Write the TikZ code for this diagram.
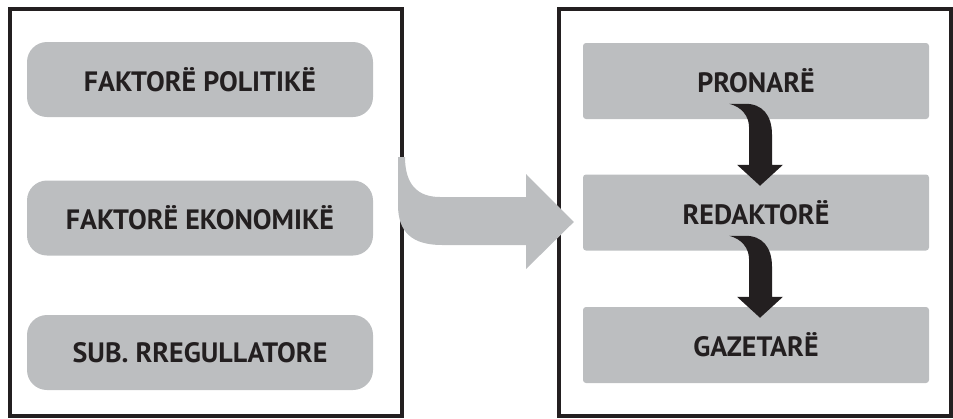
\documentclass[tikz,border=0pt]{standalone}
\usepackage{fontspec}
\setmainfont{PT Sans}
\usetikzlibrary{calc}
\definecolor{boxgray}{HTML}{BCBEC0}
\definecolor{ink}{HTML}{231F20}
\tikzset{
  frame/.style={draw=ink, line width=4pt, minimum width=392pt, minimum height=407pt, inner sep=0pt},
  boxtext/.style={text=ink, font=\fontsize{28}{32}\selectfont\bfseries},
  leftbox/.style={boxtext, fill=boxgray, rounded corners=20pt, minimum width=346pt, minimum height=75pt,
    inner sep=0pt},
  rightbox/.style={boxtext, fill=boxgray, rounded corners=3pt, minimum width=346pt, minimum height=76pt,
    inner sep=0pt},
  bigarrow/.style={fill=boxgray, draw=none},
  hook/.style={fill=ink, draw=none},
  pics/hookarrow/.style={code={
    \path[hook] (-27,-43) -- (-11,-43) .. controls (6,-43) and (16,-32) .. (16,-12)
      -- (16,18) -- (27,18) -- (4,39) -- (-19,18) -- (-7,18) -- (-7,-20)
      .. controls (-7,-30) and (-14,-40) .. (-27,-43) -- cycle;
  }}
}
\begin{document}
\begin{tikzpicture}[x=1pt, y=-1pt]
  \useasboundingbox (0,0) rectangle (953,418);

  % outer frames
  \node[frame] (lframe) at (205.5,212) {};
  \node[frame] (rframe) at (755,212) {};

  % factors
  \node[leftbox] (pol) at (200,79.5) {FAKTORË POLITIKË};
  \node[leftbox] (eko) at (200,218) {FAKTORË EKONOMIKË};
  \node[leftbox] (reg) at (200,352.5) {SUB. RREGULLATORE};

  % newsroom hierarchy
  \node[rightbox] (pron) at (756,81) {PRONARË};
  \node[rightbox] (red) at (756,212.5) {REDAKTORË};
  \node[rightbox] (gaz) at (756,345) {GAZETARË};

  % curved arrows between levels
  \pic at ($(pron.south)!0.5!(red.north)$) {hookarrow};
  \pic at ($(red.south)!0.5!(gaz.north)$) {hookarrow};

  % broad arrow from the factors to the hierarchy
  \coordinate (gstart) at (398,157);
  \coordinate (gtip) at ($(red.west)+(-9,9.5)$);
  \path[bigarrow] (gstart) -- (398,205) .. controls (398,232) and (412,245) .. (442,245)
    -- (526,245) -- (526,269) -- (gtip) -- (526,174) -- (526,197) -- (440,197)
    .. controls (418,197) and (405,185) .. (405,157) -- cycle;
\end{tikzpicture}
\end{document}
